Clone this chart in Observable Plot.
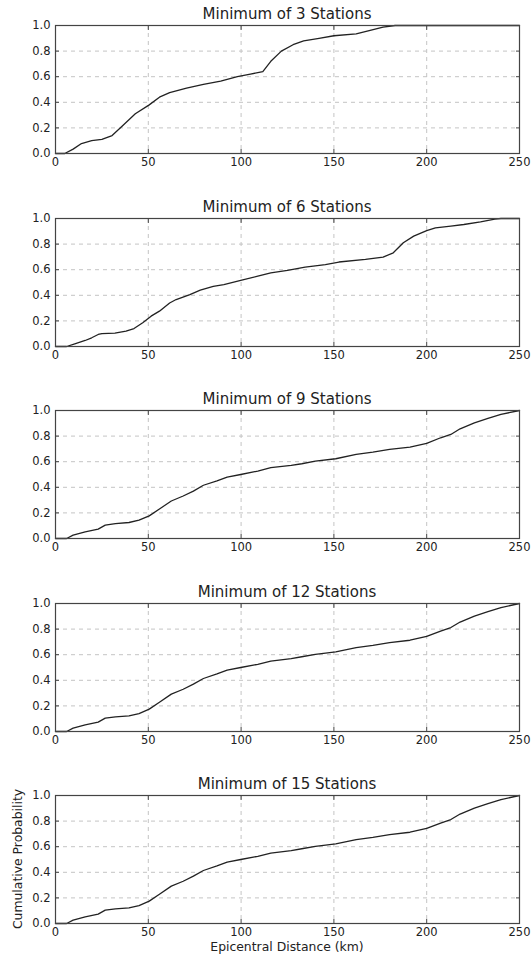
<!DOCTYPE html>
<html>
<head>
<meta charset="utf-8">
<script src="https://cdn.jsdelivr.net/npm/d3@7"></script>
<script src="https://cdn.jsdelivr.net/npm/@observablehq/plot@0.6"></script>
<style>
  html, body { margin: 0; padding: 0; background: #fff; }
  #root { position: relative; width: 531px; height: 955px; font-family: "DejaVu Sans", sans-serif; color: #222; }
  .title { position: absolute; left: 55px; width: 464px; text-align: center; font-size: 15px; line-height: 15px; white-space: nowrap; }
  .panel { position: absolute; left: 0; }
  .xlabel { position: absolute; left: 55px; width: 464px; text-align: center; font-size: 12.4px; line-height: 12.4px; white-space: nowrap; }
  .ylabel { position: absolute; font-size: 12.4px; line-height: 12.4px; white-space: nowrap; transform: translate(-50%, -50%) rotate(-90deg); }
</style>
</head>
<body>
<div id="root"></div>
<script>
// ---- data ----
const titles = ["Minimum of 3 Stations", "Minimum of 6 Stations", "Minimum of 9 Stations", "Minimum of 12 Stations", "Minimum of 15 Stations"];
const xTicks = [0, 50, 100, 150, 200, 250];
const yTicks = [0, 0.2, 0.4, 0.6, 0.8, 1.0];
const xLabel = "Epicentral Distance (km)";
const yLabel = "Cumulative Probability";

const dist3 = [0, 5, 9.5, 14, 19.5, 25, 30.5, 36, 43, 50.5, 56, 61.5, 70.6, 79.7, 89, 98, 105, 111.7, 116, 121.7, 128, 133.7, 142, 150, 162, 169, 176.5, 183, 250];
const prob3 = [0, 0, 0.034, 0.078, 0.1, 0.11, 0.14, 0.215, 0.31, 0.38, 0.44, 0.475, 0.51, 0.54, 0.566, 0.6, 0.62, 0.64, 0.72, 0.8, 0.85, 0.88, 0.9, 0.92, 0.935, 0.96, 0.987, 1.0, 1.0];

const dist6 = [0, 6, 10.4, 16, 19.5, 23, 25, 32, 38, 42.3, 47, 51.5, 56, 61.5, 65, 72.4, 78, 85, 90.7, 99.8, 109, 116, 125, 134.5, 145.4, 152.7, 167, 176.5, 182, 187.4, 193, 200, 204.7, 213, 220, 229, 236.7, 240, 250];
const prob6 = [0, 0, 0.02, 0.047, 0.068, 0.094, 0.1, 0.104, 0.12, 0.14, 0.185, 0.237, 0.276, 0.34, 0.367, 0.406, 0.44, 0.47, 0.484, 0.516, 0.55, 0.576, 0.594, 0.62, 0.64, 0.66, 0.68, 0.698, 0.732, 0.81, 0.862, 0.906, 0.927, 0.94, 0.953, 0.974, 0.995, 1.0, 1.0];

const dist9 = [0, 6, 9.5, 16, 23, 26.8, 32.3, 39.6, 45, 50.5, 56, 62.4, 68.8, 74.3, 79.7, 87, 92.5, 99.8, 109, 116, 127, 132.7, 140, 151, 162, 171, 180, 191, 200, 207.5, 213, 218, 225.7, 233, 240, 250];
const prob9 = [0, 0, 0.026, 0.052, 0.073, 0.104, 0.117, 0.125, 0.143, 0.177, 0.23, 0.293, 0.332, 0.37, 0.416, 0.45, 0.48, 0.5, 0.527, 0.553, 0.571, 0.584, 0.605, 0.623, 0.657, 0.675, 0.696, 0.714, 0.743, 0.787, 0.813, 0.857, 0.904, 0.938, 0.969, 1.0];

const dist12 = [0, 6, 9.5, 16, 23, 26.8, 32.3, 39.6, 45, 50.5, 56, 62.4, 68.8, 74.3, 79.7, 87, 92.5, 99.8, 109, 116, 127, 132.7, 140, 151, 162, 171, 180, 191, 200, 207.5, 213, 218, 225.7, 233, 240, 250];
const prob12 = [0, 0, 0.026, 0.052, 0.073, 0.104, 0.115, 0.122, 0.14, 0.175, 0.228, 0.292, 0.33, 0.37, 0.414, 0.45, 0.48, 0.5, 0.525, 0.55, 0.57, 0.584, 0.603, 0.622, 0.655, 0.673, 0.695, 0.713, 0.743, 0.785, 0.812, 0.855, 0.902, 0.936, 0.968, 1.0];

const dist15 = [0, 6, 9.5, 16, 23, 26.8, 32.3, 39.6, 45, 50.5, 56, 62.4, 68.8, 74.3, 79.7, 87, 92.5, 99.8, 109, 116, 127, 132.7, 140, 151, 162, 171, 180, 191, 200, 207.5, 213, 218, 225.7, 233, 240, 250];
const prob15 = [0, 0, 0.026, 0.052, 0.073, 0.104, 0.115, 0.122, 0.14, 0.175, 0.228, 0.292, 0.33, 0.37, 0.414, 0.45, 0.48, 0.5, 0.525, 0.55, 0.57, 0.584, 0.603, 0.622, 0.655, 0.673, 0.695, 0.713, 0.743, 0.785, 0.812, 0.855, 0.902, 0.936, 0.968, 1.0];

const series = [[dist3, prob3], [dist6, prob6], [dist9, prob9], [dist12, prob12], [dist15, prob15]];

// ---- layout ----
const panelTops = [25, 218, 410, 603, 795];
const plotH = 128;
const mTop = 6, mBottom = 24, mLeft = 55, mRight = 12;

const root = document.getElementById("root");

series.forEach(([xs, ys], i) => {
  const data = xs.map((x, j) => ({x, y: ys[j]}));
  const t = document.createElement("div");
  t.className = "title";
  t.style.top = (panelTops[i] - 18) + "px";
  t.textContent = titles[i];
  root.appendChild(t);

  const chart = Plot.plot({
    width: 531,
    height: plotH + mTop + mBottom,
    marginTop: mTop, marginBottom: mBottom, marginLeft: mLeft, marginRight: mRight,
    style: {fontFamily: "DejaVu Sans, sans-serif", fontSize: "11.5px", color: "#222", background: "transparent", overflow: "visible"},
    x: {domain: [0, 250]},
    y: {domain: [0, 1]},
    marks: [
      Plot.gridX(xTicks, {stroke: "#c4c4c4", strokeOpacity: 1, strokeDasharray: "4,4"}),
      Plot.gridY(yTicks, {stroke: "#c4c4c4", strokeOpacity: 1, strokeDasharray: "4,4"}),
      Plot.line(data, {x: "x", y: "y", stroke: "#222", strokeWidth: 1.3}),
      Plot.frame({stroke: "#444", strokeWidth: 1.2}),
      Plot.axisX(xTicks, {anchor: "bottom", tickSize: 0, tickPadding: 4, tickFormat: d3.format("d"), label: null, fill: "#222"}),
      Plot.axisY(yTicks, {anchor: "left", tickSize: 0, tickPadding: 5, tickFormat: d3.format(".1f"), label: null, fill: "#222"}),
      Plot.axisX(xTicks.slice(1, -1), {anchor: "bottom", tickSize: -4, text: null, label: null, stroke: "#444"}),
      Plot.axisY(yTicks.slice(1, -1), {anchor: "left", tickSize: -4, text: null, label: null, stroke: "#444"}),
      Plot.axisX(xTicks.slice(1, -1), {anchor: "top", tickSize: -4, text: null, label: null, stroke: "#444"}),
      Plot.axisY(yTicks.slice(1, -1), {anchor: "right", tickSize: -4, text: null, label: null, stroke: "#444"})
    ]
  });
  const wrap = document.createElement("div");
  wrap.className = "panel";
  wrap.style.top = (panelTops[i] - mTop) + "px";
  wrap.appendChild(chart);
  root.appendChild(wrap);
});

const xl = document.createElement("div");
xl.className = "xlabel";
xl.style.top = (panelTops[4] + plotH + 18) + "px";
xl.textContent = xLabel;
root.appendChild(xl);

const yl = document.createElement("div");
yl.className = "ylabel";
yl.style.left = "18px";
yl.style.top = (panelTops[4] + plotH / 2) + "px";
yl.textContent = yLabel;
root.appendChild(yl);
</script>
</body>
</html>
